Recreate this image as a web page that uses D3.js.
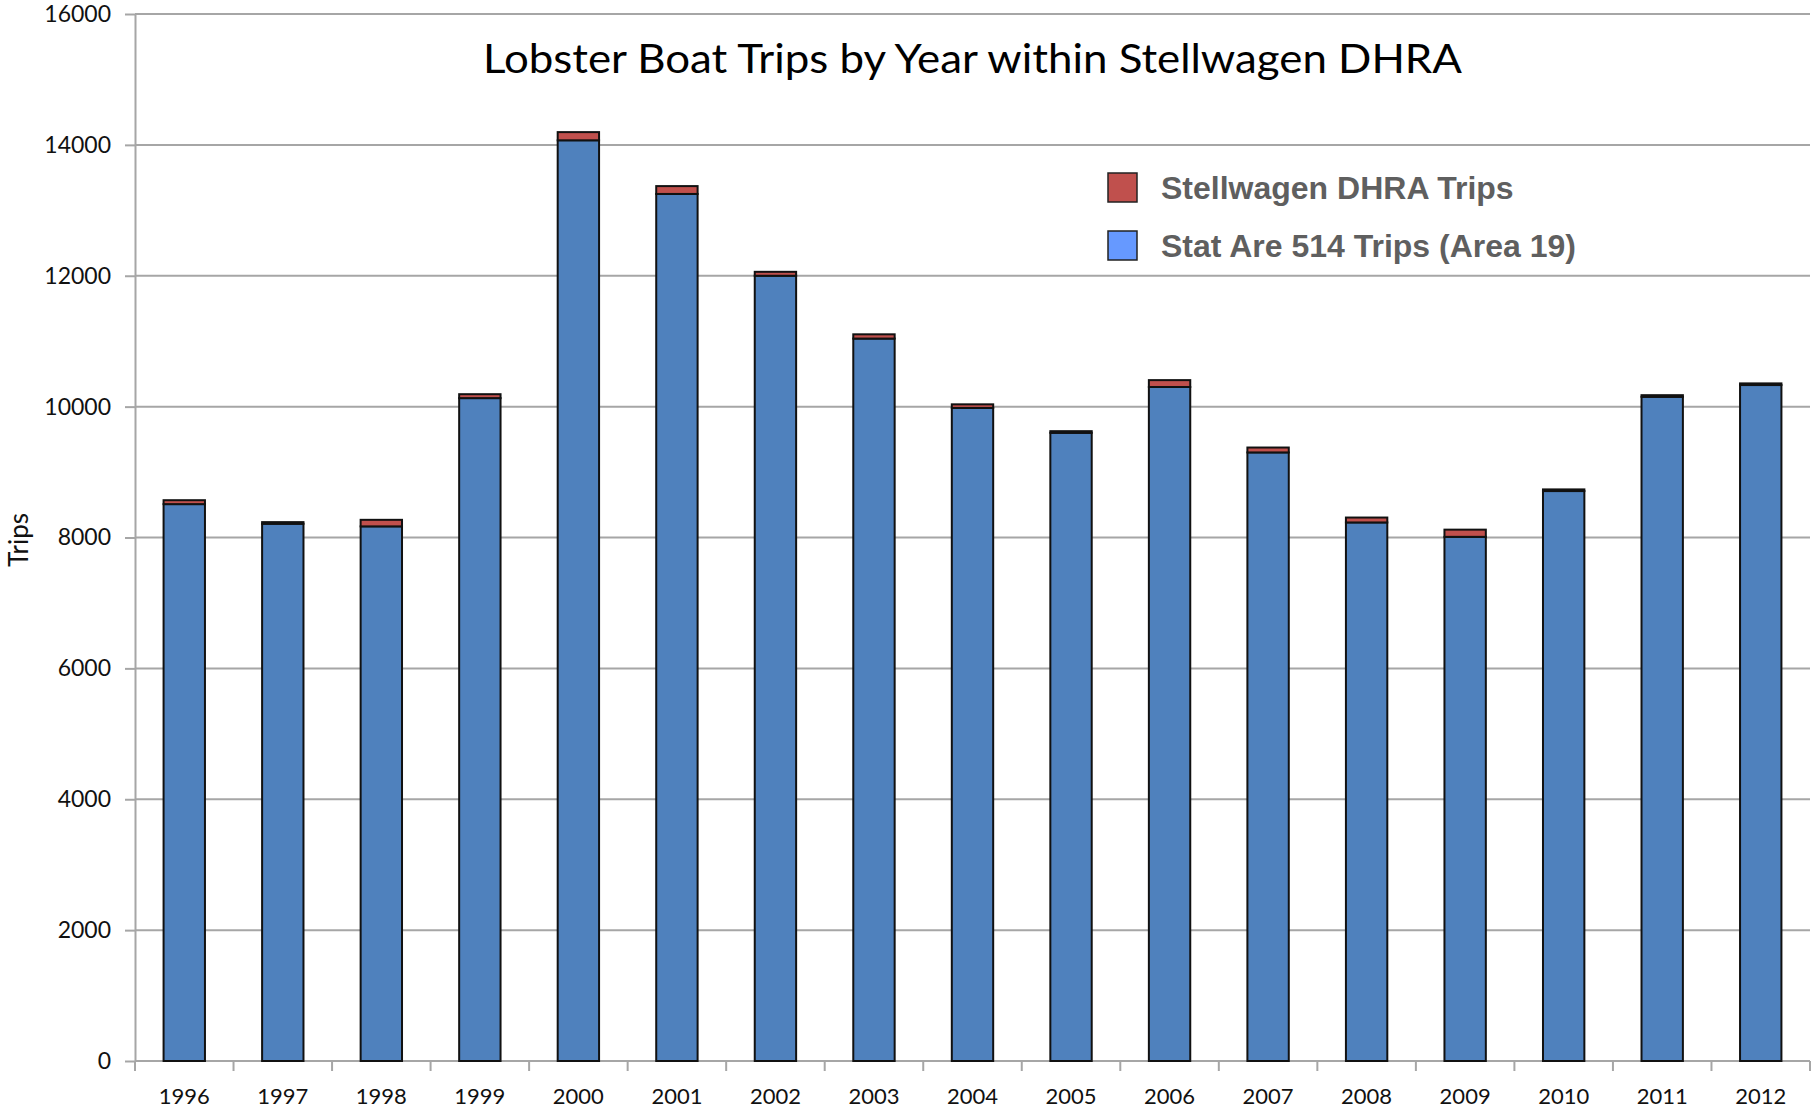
<!DOCTYPE html>
<html>
<head>
<meta charset="utf-8">
<script src="https://cdn.jsdelivr.net/npm/d3@7"></script>
<style>
  html, body { margin: 0; padding: 0; background: #fff; }
  svg { display: block; }
</style>
</head>
<body>
<svg id="chart" width="1820" height="1108"></svg>
<script>
// Lobster boat trips per year, stacked: Area 514 trips with DHRA trips on top
const years = ["1996","1997","1998","1999","2000","2001","2002","2003","2004","2005","2006","2007","2008","2009","2010","2011","2012"];
const area514Trips = [8510, 8210, 8170, 10130, 14070, 13250, 12000, 11040, 9980, 9600, 10300, 9300, 8230, 8010, 8710, 10150, 10330];
const dhraTrips = [60, 25, 100, 60, 125, 120, 60, 65, 55, 25, 105, 75, 75, 110, 25, 25, 25];
const yTicks = [0, 2000, 4000, 6000, 8000, 10000, 12000, 14000, 16000];
const seriesNames = ["Stellwagen DHRA Trips", "Stat Are 514 Trips (Area 19)"];

const W = 1820, H = 1108;
const margin = { top: 14, right: 10, bottom: 47, left: 135 };
const svg = d3.select("#chart");

const x = d3.scaleBand().domain(years)
  .range([margin.left, W - margin.right])
  .paddingInner(0.58).paddingOuter(0.29);
const y = d3.scaleLinear().domain([0, 16000]).range([H - margin.bottom, margin.top]);

const gridColor = "#a6a6a6";
const tickFont = "Lato, 'Open Sans', sans-serif";

// horizontal gridlines
svg.append("g").selectAll("line").data(yTicks.filter(d => d > 0)).join("line")
  .attr("x1", margin.left).attr("x2", W - margin.right)
  .attr("y1", d => y(d)).attr("y2", d => y(d))
  .attr("stroke", gridColor).attr("stroke-width", 2);

// y axis
const yAxis = svg.append("g").attr("transform", `translate(${margin.left},0)`)
  .call(d3.axisLeft(y).tickValues(yTicks).tickSize(10).tickSizeOuter(0).tickPadding(14).tickFormat(d3.format("d")));
yAxis.select(".domain").attr("stroke", gridColor).attr("stroke-width", 2);
yAxis.selectAll(".tick line").attr("stroke", gridColor).attr("stroke-width", 2);
yAxis.selectAll("text").attr("font-family", tickFont).attr("font-size", 23).attr("fill", "#111");

// x axis with tick marks at category boundaries
const xAxisG = svg.append("g").attr("transform", `translate(0,${H - margin.bottom})`);
xAxisG.append("line").attr("x1", margin.left).attr("x2", W - margin.right)
  .attr("stroke", gridColor).attr("stroke-width", 2);
const step = x.step();
const bounds = d3.range(years.length + 1).map(i => margin.left + i * step);
xAxisG.selectAll("line.bt").data(bounds).join("line").attr("class", "bt")
  .attr("x1", d => d).attr("x2", d => d).attr("y1", 0).attr("y2", 10)
  .attr("stroke", gridColor).attr("stroke-width", 2);
xAxisG.selectAll("text").data(years).join("text")
  .attr("x", d => x(d) + x.bandwidth() / 2).attr("y", 43)
  .attr("text-anchor", "middle")
  .attr("font-family", tickFont).attr("font-size", 22).attr("fill", "#111")
  .text(d => d);

// stacked bars
const rows = years.map((yr, i) => ({ year: yr, area: area514Trips[i], dhra: dhraTrips[i] }));
const stack = d3.stack().keys(["area", "dhra"])(rows);
const fills = { area: "#4f81bd", dhra: "#c0504d" };
svg.append("g").selectAll("g").data(stack).join("g")
  .attr("fill", d => fills[d.key])
  .selectAll("rect").data(d => d).join("rect")
  .attr("x", d => x(d.data.year))
  .attr("width", x.bandwidth())
  .attr("y", d => y(d[1]))
  .attr("height", d => y(d[0]) - y(d[1]))
  .attr("stroke", "#111").attr("stroke-width", 2);

// title
svg.append("text")
  .attr("x", (margin.left + W - margin.right) / 2).attr("y", 73)
  .attr("text-anchor", "middle")
  .attr("font-family", tickFont).attr("font-size", 40).attr("fill", "#000")
  .attr("textLength", 979).attr("lengthAdjust", "spacingAndGlyphs")
  .text("Lobster Boat Trips by Year within Stellwagen DHRA");

// y axis title
svg.append("text")
  .attr("transform", "translate(28,540) rotate(-90)")
  .attr("text-anchor", "middle")
  .attr("font-family", tickFont).attr("font-size", 26).attr("fill", "#111")
  .text("Trips");

// legend
const legendColors = ["#c0504d", "#6699ff"];
const legend = svg.append("g").attr("transform", "translate(1108,173)");
const item = legend.selectAll("g").data(seriesNames).join("g")
  .attr("transform", (d, i) => `translate(0,${i * 58})`);
item.append("rect").attr("width", 29).attr("height", 29)
  .attr("fill", (d, i) => legendColors[i]).attr("stroke", "#222").attr("stroke-width", 1.5);
item.append("text").attr("x", 53).attr("y", 26)
  .attr("font-family", "'Liberation Sans', Arial, sans-serif").attr("font-weight", "bold")
  .attr("font-size", 32).attr("fill", "#5f5f5f")
  .text(d => d);
</script>
</body>
</html>
